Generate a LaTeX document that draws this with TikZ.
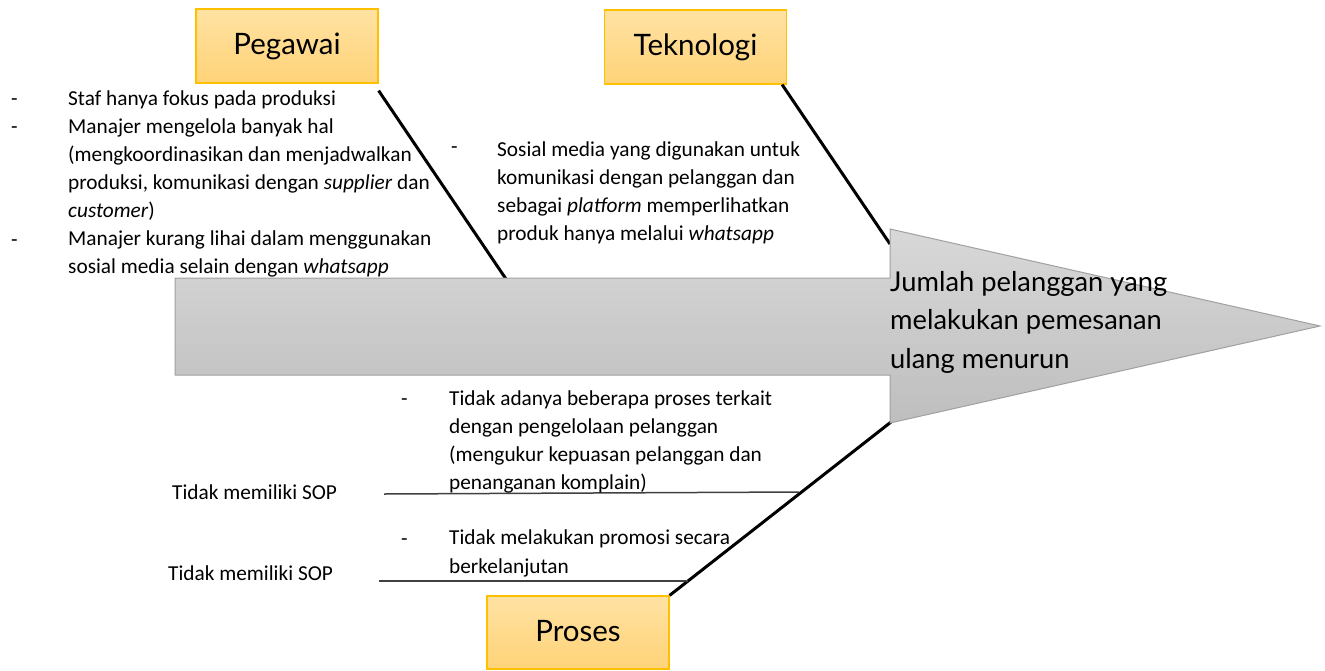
\documentclass[tikz,border=0pt]{standalone}
\usepackage{fontspec}
\setmainfont{Carlito}
\newfontfamily\headfont{Lato}
\definecolor{boxtop}{RGB}{255,226,163}
\definecolor{boxbot}{RGB}{255,211,120}
\definecolor{boxline}{RGB}{255,192,0}
\definecolor{arrtop}{RGB}{216,216,216}
\definecolor{arrbot}{RGB}{190,190,190}
\definecolor{arrline}{RGB}{160,160,160}
\definecolor{hgray}{RGB}{64,64,64}
\tikzset{
  catbox/.style={draw=boxline, line width=1.2pt, top color=boxtop, bottom color=boxbot,
    minimum width=182pt, minimum height=74pt, inner sep=0pt,
    font=\headfont\fontsize{29.5}{34}\selectfont},
  bodytext/.style={inner sep=0pt, align=left, anchor=base west,
    font=\fontsize{21.3}{28.1}\selectfont},
  dashmark/.style={inner sep=0pt, anchor=base west, font=\fontsize{21.3}{28.1}\selectfont},
  bone/.style={line width=3pt, black},
  subbone/.style={line width=1.5pt, hgray},
  fishhead/.style={draw=arrline, line width=1pt, top color=arrtop, bottom color=arrbot},
}
\begin{document}
\begin{tikzpicture}[x=1pt,y=-1pt]
\useasboundingbox (0,0) rectangle (1325,670);

% category boxes
\node[catbox] (peg) at (287,46) {Pegawai};
\node[catbox] (tek) at (695.5,47) {Teknologi};
\node[catbox, minimum height=73pt] (pro) at (578,632.5) {\raisebox{4pt}{Proses}};

% bone end points
\coordinate (pegEnd) at (506,279);
\coordinate (tekEnd) at (890,244);
\coordinate (proEnd) at (891,422);
\coordinate (h1s) at (384,494);
\coordinate (h1e) at (799,492);
\coordinate (h2s) at (379,581);
\coordinate (h2e) at (688,581);

% bones
\draw[bone] ([yshift=-7pt]peg.south east) -- (pegEnd);
\draw[bone] ([xshift=-5pt]tek.south east) -- (tekEnd);
\draw[bone] (pro.north east) -- (proEnd);
\draw[subbone] (h1s) -- (h1e);
\draw[subbone] (h2s) -- (h2e);

% fish body / head arrow
\draw[fishhead] (175,278) -- (890,278) -- (890,229) -- (1320,326) -- (890,423) -- (890,375) -- (175,375) -- cycle;
\node[inner sep=0pt, align=left, anchor=base west, font=\headfont\fontsize{27.3}{38.5}\selectfont]
  (effect) at (890,368) {Jumlah pelanggan yang\\melakukan pemesanan\\ulang menurun};

% Pegawai causes
\node[dashmark] (pd1) at (11,105) {-};
\node[dashmark] (pd2) at (11,133) {-};
\node[dashmark] (pd3) at (11,246) {-};
\node[bodytext] (pegtext) at (68,273.6) {Staf hanya fokus pada produksi\\
Manajer mengelola banyak hal\\
(mengkoordinasikan dan menjadwalkan\\
produksi, komunikasi dengan \textit{supplier} dan\\
\textit{customer})\\
Manajer kurang lihai dalam menggunakan\\
sosial media selain dengan \textit{whatsapp}};

% Teknologi causes
\node[dashmark] (td1) at (451,153) {-};
\node[bodytext] (tektext) at (497,240.3) {Sosial media yang digunakan untuk\\
komunikasi dengan pelanggan dan\\
sebagai \textit{platform} memperlihatkan\\
produk hanya melalui \textit{whatsapp}};

% Proses causes
\node[dashmark] (rd1) at (401,405) {-};
\node[bodytext] (protext1) at (449,489.3) {Tidak adanya beberapa proses terkait\\
dengan pengelolaan pelanggan\\
(mengukur kepuasan pelanggan dan\\
penanganan komplain)};
\node[dashmark] (rd2) at (401,545) {-};
\node[bodytext] (protext2) at (449,573) {Tidak melakukan promosi secara\\
berkelanjutan};
\node[bodytext] (sop1) at (172,499) {Tidak memiliki SOP};
\node[bodytext] (sop2) at (168,580) {Tidak memiliki SOP};
\end{tikzpicture}
\end{document}
